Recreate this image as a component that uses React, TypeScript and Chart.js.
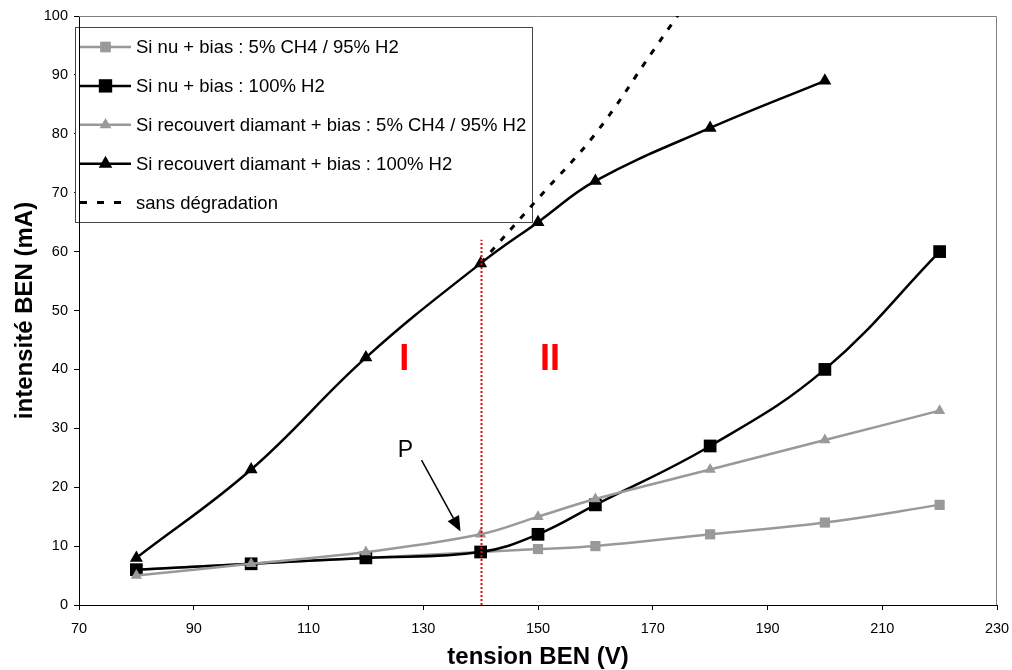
import React, { useEffect, useRef } from "react";
import { Chart, registerables } from "chart.js";

Chart.register(...registerables);

// ---- data ----
const xValues = [80, 100, 120, 140, 150, 160, 180, 200, 220];
const siNuCH4 = [6, 7, 8, 9, 9.5, 10, 12, 14, 17];
const siNuH2 = [6, 7, 8, 9, 12, 17, 27, 40, 60];
const diamCH4 = [5, 7, 9, 12, 15, 18, 23, 28, 33];
const diamH2X = [80, 100, 120, 140, 150, 160, 180, 200];
const diamH2 = [8, 23, 42, 58, 65, 72, 81, 89];
const sansDegX = [140, 150, 160, 170, 180];
const sansDeg = [58, 69, 80, 94, 108];

const seriesLabels = [
  "Si nu + bias : 5% CH4 / 95% H2",
  "Si nu + bias : 100% H2",
  "Si recouvert diamant + bias : 5% CH4 / 95% H2",
  "Si recouvert diamant + bias : 100% H2",
  "sans dégradation",
];

const xAxisTitle = "tension BEN (V)";
const yAxisTitle = "intensité BEN (mA)";
const xMin = 70, xMax = 230, xStep = 20;
const yMin = 0, yMax = 100, yStep = 10;

// annotations (data coordinates)
const boundaryX = 140;
const boundaryTop = 62;
const regionLabels = [
  { text: "I", x: 126.7, y: 41.6 },
  { text: "II", x: 152.1, y: 41.6 },
];
const pointerLabel = { text: "P", x: 126.9, y: 26.2 };
const pointerArrow = { x0: 129.7, y0: 24.6, x1: 136.5, y1: 12.5 };

const FONT = "'Liberation Sans', Arial, sans-serif";
const GRAY = "#999999";
const BLACK = "#000000";

const pts = (xs: number[], ys: number[]) => xs.map((x, i) => ({ x, y: ys[i] }));

type Style = { color: string; shape: string; radius: number; dash: number[] | null; width: number };
const styles: Style[] = [
  { color: GRAY, shape: "rect", radius: 7.2, dash: null, width: 2.5 },
  { color: BLACK, shape: "rect", radius: 9, dash: null, width: 2.5 },
  { color: GRAY, shape: "triangle", radius: 6.5, dash: null, width: 2.5 },
  { color: BLACK, shape: "triangle", radius: 7.5, dash: null, width: 2.5 },
  { color: BLACK, shape: "none", radius: 0, dash: [6, 9], width: 3 },
];

function drawMarker(ctx: CanvasRenderingContext2D, shape: string, x: number, y: number, r: number, color: string) {
  ctx.fillStyle = color;
  ctx.beginPath();
  if (shape === "rect") {
    const s = Math.SQRT1_2 * r;
    ctx.rect(x - s, y - s, 2 * s, 2 * s);
  } else if (shape === "triangle") {
    ctx.moveTo(x, y - r);
    ctx.lineTo(x + Math.sin((2 * Math.PI) / 3) * r, y - Math.cos((2 * Math.PI) / 3) * r);
    ctx.lineTo(x + Math.sin((4 * Math.PI) / 3) * r, y - Math.cos((4 * Math.PI) / 3) * r);
    ctx.closePath();
  }
  ctx.fill();
}

// frame + legend drawn beneath the data lines
const framePlugin = {
  id: "frameLegend",
  beforeDatasetsDraw(chart: any) {
    const { ctx, chartArea: a } = chart;
    ctx.save();
    ctx.strokeStyle = "#808080";
    ctx.lineWidth = 1;
    ctx.beginPath();
    ctx.moveTo(a.left, a.top + 0.5);
    ctx.lineTo(a.right - 0.5, a.top + 0.5);
    ctx.lineTo(a.right - 0.5, a.bottom);
    ctx.stroke();

    const left = a.left - 4;
    const top = a.top + 11;
    const w = 457;
    const h = 195;
    ctx.fillStyle = "#fff";
    ctx.fillRect(left, top, w, h);
    ctx.strokeStyle = "#444";
    ctx.lineWidth = 1;
    ctx.strokeRect(left + 0.5, top + 0.5, w, h);
    // y-axis line remains visible through the legend
    ctx.strokeStyle = "#000";
    ctx.beginPath();
    ctx.moveTo(a.left + 0.5, top);
    ctx.lineTo(a.left + 0.5, top + h + 1);
    ctx.stroke();

    const rowH = 38.9;
    ctx.font = `18.5px ${FONT}`;
    ctx.textBaseline = "middle";
    ctx.textAlign = "left";
    seriesLabels.forEach((label, i) => {
      const st = styles[i];
      const y = top + 20 + i * rowH;
      const lx0 = left + 5;
      const lx1 = left + 56;
      ctx.strokeStyle = st.color;
      ctx.lineWidth = st.width;
      if (st.dash) ctx.setLineDash([7, 10]);
      else ctx.setLineDash([]);
      ctx.beginPath();
      ctx.moveTo(lx0, y);
      ctx.lineTo(lx1, y);
      ctx.stroke();
      ctx.setLineDash([]);
      if (st.shape !== "none") drawMarker(ctx, st.shape, (lx0 + lx1) / 2, y, st.radius * 1.05, st.color);
      ctx.fillStyle = "#000";
      ctx.fillText(label, left + 61, y + 1);
    });
    ctx.restore();
  },
};

const annotationPlugin = {
  id: "annot",
  afterDatasetsDraw(chart: any) {
    const { ctx } = chart;
    const xs = chart.scales.x;
    const ys = chart.scales.y;
    ctx.save();
    const bx = Math.round(xs.getPixelForValue(boundaryX)) + 0.5;
    ctx.strokeStyle = "#ff0000";
    ctx.lineWidth = 2;
    ctx.setLineDash([2, 2]);
    ctx.beginPath();
    ctx.moveTo(bx, ys.getPixelForValue(0));
    ctx.lineTo(bx, ys.getPixelForValue(boundaryTop));
    ctx.stroke();
    ctx.setLineDash([]);
    ctx.fillStyle = "#ff0000";
    ctx.font = `bold 36px ${FONT}`;
    ctx.textAlign = "center";
    ctx.textBaseline = "middle";
    regionLabels.forEach((r) => {
      ctx.fillText(r.text, xs.getPixelForValue(r.x), ys.getPixelForValue(r.y));
    });
    ctx.fillStyle = "#000";
    ctx.font = `23px ${FONT}`;
    ctx.fillText(pointerLabel.text, xs.getPixelForValue(pointerLabel.x), ys.getPixelForValue(pointerLabel.y));
    const x0 = xs.getPixelForValue(pointerArrow.x0);
    const y0 = ys.getPixelForValue(pointerArrow.y0);
    const x1 = xs.getPixelForValue(pointerArrow.x1);
    const y1 = ys.getPixelForValue(pointerArrow.y1);
    const ang = Math.atan2(y1 - y0, x1 - x0);
    const headLen = 15, headW = 6.5;
    const bxp = x1 - Math.cos(ang) * headLen;
    const byp = y1 - Math.sin(ang) * headLen;
    ctx.strokeStyle = "#000";
    ctx.lineWidth = 1.5;
    ctx.beginPath();
    ctx.moveTo(x0, y0);
    ctx.lineTo(bxp, byp);
    ctx.stroke();
    ctx.beginPath();
    ctx.moveTo(x1, y1);
    ctx.lineTo(bxp + Math.sin(ang) * headW, byp - Math.cos(ang) * headW);
    ctx.lineTo(bxp - Math.sin(ang) * headW, byp + Math.cos(ang) * headW);
    ctx.closePath();
    ctx.fillStyle = "#000";
    ctx.fill();
    ctx.restore();
  },
};

export default function App() {
  const ref = useRef<HTMLCanvasElement | null>(null);
  useEffect(() => {
    if (!ref.current) return;
    const seriesData = [
      pts(xValues, siNuCH4),
      pts(xValues, siNuH2),
      pts(xValues, diamCH4),
      pts(diamH2X, diamH2),
      pts(sansDegX, sansDeg),
    ];
    const datasets = seriesData.map((d, i) => {
      const st = styles[i];
      return {
        label: seriesLabels[i],
        data: d,
        borderColor: st.color,
        backgroundColor: st.color,
        borderWidth: st.width,
        borderDash: st.dash || [],
        pointStyle: st.shape === "none" ? false : st.shape,
        pointRadius: st.radius,
        pointHoverRadius: st.radius,
        pointBorderWidth: 0,
        tension: 0.4,
        fill: false,
        order: 10 - i,
      };
    });
    const chart = new Chart(ref.current, {
      type: "line",
      data: { datasets } as any,
      options: {
        animation: false,
        responsive: false,
        layout: { padding: { left: 0, top: 16, right: 15, bottom: 0 } },
        plugins: { legend: { display: false }, tooltip: { enabled: false } },
        scales: {
          x: {
            type: "linear",
            min: xMin,
            max: xMax,
            ticks: { stepSize: xStep, color: "#000", font: { family: FONT, size: 14.5 }, padding: 10, maxRotation: 0 },
            grid: { drawOnChartArea: false, drawTicks: true, tickLength: 5, color: "#000" },
            border: { color: "#000", width: 1 },
            title: { display: true, text: xAxisTitle, color: "#000", font: { family: FONT, size: 24, weight: "bold" }, padding: { top: 0, bottom: -2 } },
            afterFit: (s: any) => { s.height = 65; s.paddingRight = 0; s.paddingLeft = 0; },
          },
          y: {
            type: "linear",
            min: yMin,
            max: yMax,
            ticks: { stepSize: yStep, color: "#000", font: { family: FONT, size: 14.5 }, padding: 6 },
            grid: { drawOnChartArea: false, drawTicks: true, tickLength: 5, color: "#000" },
            border: { color: "#000", width: 1 },
            title: { display: true, text: yAxisTitle, color: "#000", font: { family: FONT, size: 24, weight: "bold" }, padding: { top: 11, bottom: 0 } },
            afterFit: (s: any) => { s.width = 79; s.paddingTop = 0; s.paddingBottom = 0; },
          },
        },
      } as any,
      plugins: [framePlugin, annotationPlugin],
    });
    return () => chart.destroy();
  }, []);
  return (
    <div style={{ position: "absolute", left: 0, top: 0, width: 1012, height: 670, background: "#fff" }}>
      <canvas ref={ref} width={1012} height={670} style={{ display: "block" }} />
    </div>
  );
}
